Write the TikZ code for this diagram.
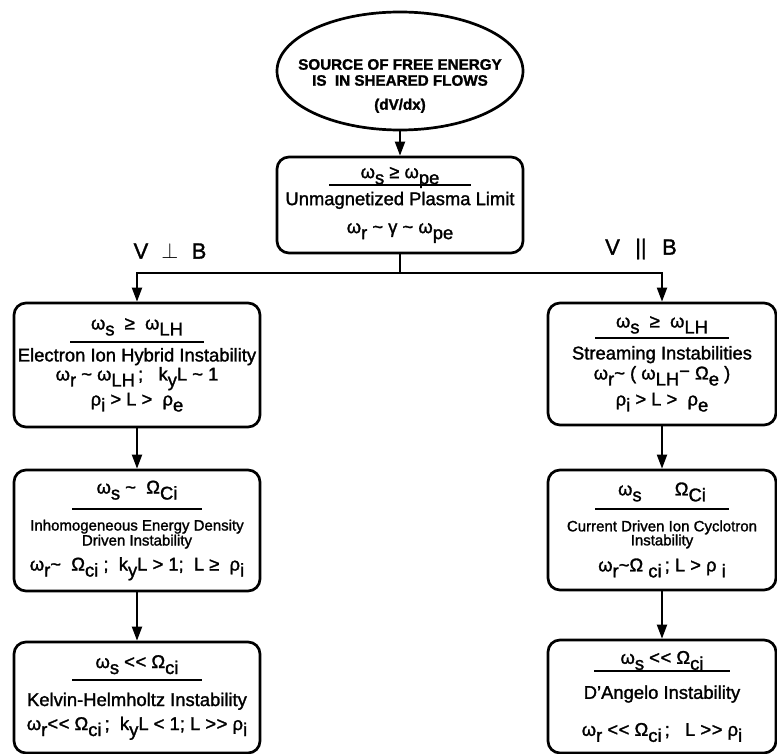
\documentclass[tikz,border=0pt]{standalone}
\usepackage{fontspec}
\setmainfont{Liberation Sans}[FakeBold=1.5]
\usetikzlibrary{arrows.meta,positioning,shapes.geometric}

\newcommand{\lowr}[1]{\raisebox{-3pt}{#1}}
\newcommand{\condline}[3]{\vtop{\hbox to #1{\hss\raisebox{0pt}[\height][0pt]{#3}\hss}\kern#2\hrule height 1pt width #1}}
\newcommand{\smalltext}{\fontsize{7.5}{10}\selectfont}
\newcommand{\tld}{\textasciitilde}
\newcommand{\mless}{<\kern0.3pt<}
\newcommand{\mmore}{>\kern0.3pt>}
\lineskiplimit=-20pt

\begin{document}
\begin{tikzpicture}[x=0.5pt,y=-0.5pt,
  panel/.style={draw,line width=1.35pt,rounded corners=6pt,align=center,inner sep=0pt,
    font=\fontsize{9.2}{10}\selectfont},
  leftbox/.style={panel,minimum width=123pt},
  rightbox/.style={panel,minimum width=114pt},
  flow/.style={-{Triangle[length=7pt,width=5pt]},line width=1pt},
  branch/.style={font=\fontsize{11}{12}\selectfont}]
  \useasboundingbox (0,0) rectangle (777,754);

  % source of free energy
  \node[ellipse,draw,line width=1.35pt,minimum width=123pt,minimum height=59pt,inner sep=0pt] (src) at (400,71) {};
  \node[align=center,inner sep=0pt,font=\bfseries\fontsize{7.6}{8}\selectfont] (srctext) at (400,86)
    {SOURCE OF FREE ENERGY\\IS\ \ IN SHEARED FLOWS\\[4pt](dV/dx)};

  \node[panel,minimum width=123pt,minimum height=48pt] (unmag) at (400,205)
    {\condline{71pt}{3pt}{ω\lowr{s} ≥ ω\lowr{pe}}\\[3.5pt]Unmagnetized Plasma Limit\\[4pt]ω\lowr{r} \tld{} γ \tld{} ω\lowr{pe}};

  % perpendicular branch
  \node[leftbox,minimum height=62pt] (eih) at (137,365)
    {\condline{67pt}{6pt}{ω\lowr{s}\ \ ≥\ \ ω\lowr{LH}}\\[6pt]Electron Ion Hybrid Instability\\[-0.5pt]%
     ω\lowr{r} \tld{} ω\lowr{LH}\,;\ \ \ k\lowr{y}L \tld{} 1\\[2.5pt]ρ\lowr{i} > L >\ \ ρ\lowr{e}};
  \node[leftbox,minimum height=60.5pt] (ied) at (137,530.5)
    {\condline{65pt}{7pt}{ω\lowr{s} \tld{}\ \ Ω\lowr{Ci}}\\[8.5pt]\smalltext Inhomogeneous Energy Density\\[-2.5pt]%
     \smalltext Driven Instability\\[2.5pt]ω\lowr{r}\tld{}\ \ Ω\lowr{ci}\ ;\ \ k\lowr{y}L > 1;\ \ L ≥\ \ ρ\lowr{i}};
  \node[leftbox,minimum height=55.5pt] (kh) at (137,697.5)
    {\condline{65pt}{5.5pt}{ω\lowr{s} \mless{} Ω\lowr{ci}}\\[9pt]Kelvin-Helmholtz Instability\\[2pt]%
     ω\lowr{r}\mless{} Ω\lowr{ci}\,;\ \ k\lowr{y}L < 1;\ L \mmore{} ρ\lowr{i}};

  % parallel branch
  \node[rightbox,minimum height=61pt] (stream) at (662,364)
    {\condline{67pt}{5pt}{ω\lowr{s}\ \ ≥\ \ ω\lowr{LH}}\\[6pt]Streaming Instabilities\\[0pt]%
     ω\lowr{r}\tld{} ( ω\lowr{LH}\raisebox{1pt}{−} Ω\lowr{e} )\\[3pt]ρ\lowr{i} > L >\ \ ρ\lowr{e}};
  \node[rightbox,minimum height=60pt] (cdic) at (662,530)
    {\condline{67pt}{6.5pt}{ω\lowr{s}\hspace{1.8em}Ω\lowr{Ci}}\\[8pt]\smalltext Current Driven Ion Cyclotron\\[-3pt]%
     \smalltext Instability\\[3pt]ω\lowr{r}\tld{}Ω\ \lowr{ci}\,; L > ρ\ \lowr{i}};
  \node[rightbox,minimum height=56.5pt] (dang) at (662,696.5)
    {\condline{68pt}{3pt}{ω\lowr{s} \mless{} Ω\lowr{ci}}\\[7.5pt]D'Angelo Instability\\[8.5pt]%
     ω\lowr{r} \mless{} Ω\lowr{ci}\,;\ \ \ L \mmore{}\ ρ\lowr{i}};

  \node[branch] (perp) at (170,251) {V\hspace{0.6em}$\perp$\hspace{0.6em}B};
  \node[branch] (para) at (641,249) {V\hspace{0.7em}||\hspace{0.7em}B};

  % connectors
  \coordinate (fork) at (400,273);
  \draw[flow] (src) -- (unmag);
  \draw[line width=1pt] (unmag) -- (fork);
  \draw[flow] (fork) -| (eih);
  \draw[flow] (fork) -| (stream);
  \draw[flow] (eih) -- (ied);
  \draw[flow] (ied) -- (kh);
  \draw[flow] (stream) -- (cdic);
  \draw[flow] (cdic) -- (dang);
\end{tikzpicture}
\end{document}
